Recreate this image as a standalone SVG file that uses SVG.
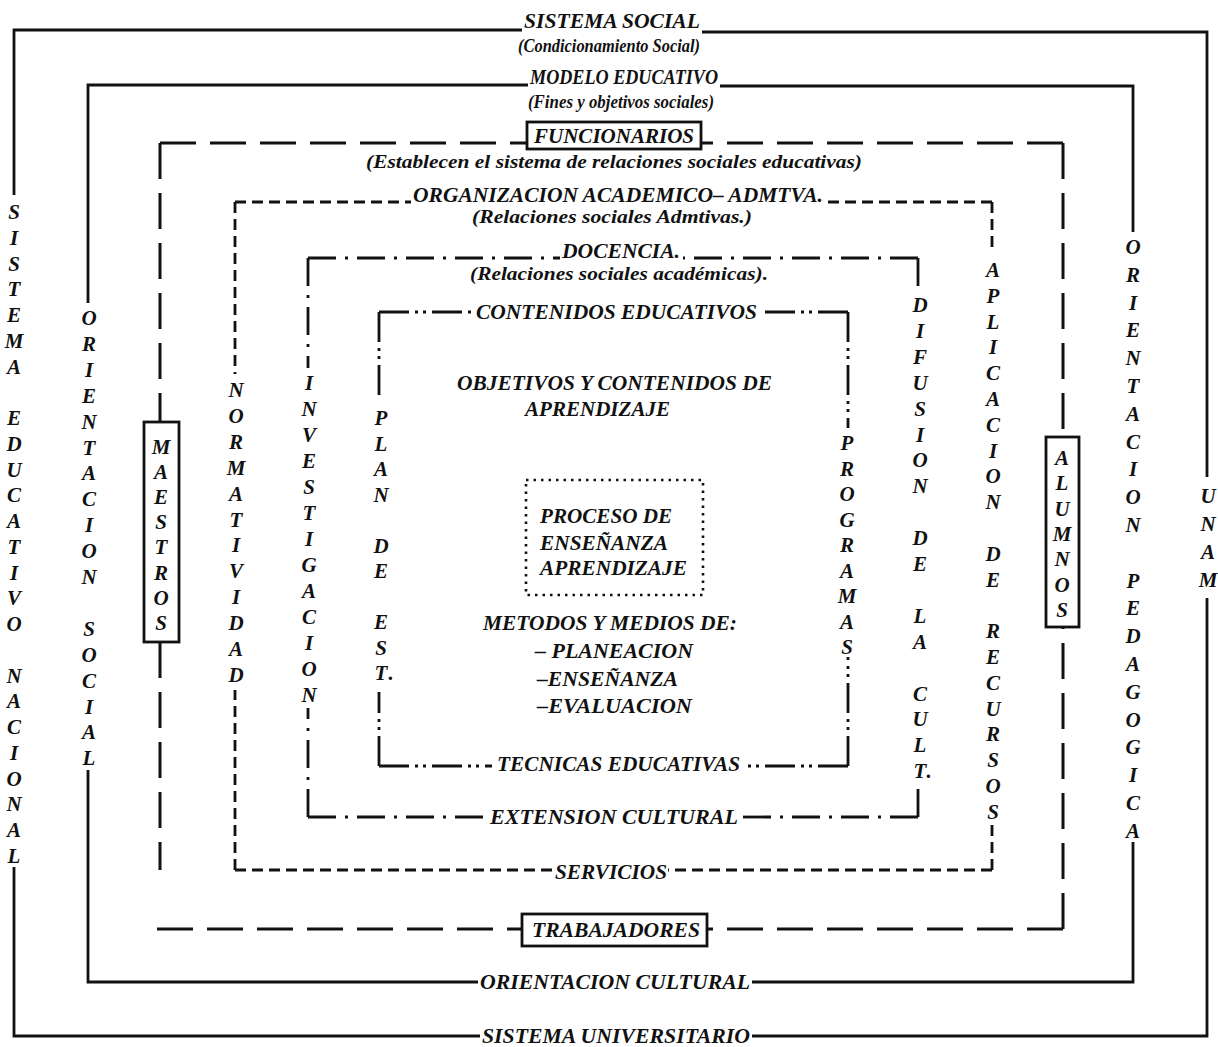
<svg xmlns="http://www.w3.org/2000/svg" width="1218" height="1047" viewBox="0 0 1218 1047">
<style>
.t{font-family:"Liberation Serif","Times New Roman",serif;font-style:italic;font-weight:bold;fill:#111}
.c{font-size:21px}
.s{font-size:19px}
.v{font-size:21px;text-anchor:middle}
.ln{fill:none;stroke:#111;stroke-width:2.8}
.d3{stroke-dasharray:36 14;stroke-width:3}
.d4{stroke-dasharray:11 6}
.d5{stroke-dasharray:28 9 3 9}
.d6{stroke-dasharray:30 6 3 5 3 6}
.box{fill:#fff;stroke:#111;stroke-width:2.8}
.dot{fill:none;stroke:#111;stroke-width:2.6;stroke-dasharray:2.5 5}
</style>
<rect width="1218" height="1047" fill="#fff"/>
<g id="connectors">
  <g id="frame-sistema-social-lines">
    <path class="ln" d="M522 30 H14 V195"/>
    <path class="ln" d="M14 867 V1036 H480"/>
    <path class="ln" d="M752 1036 H1207 V598"/>
    <path class="ln" d="M1207 477 V32 H702"/>
  </g>
  <g id="frame-modelo-educativo-lines">
    <path class="ln" d="M528 85 H88 V303"/>
    <path class="ln" d="M88 770 V982 H478"/>
    <path class="ln" d="M752 982 H1133 V842"/>
    <path class="ln" d="M1133 232 V86 H720"/>
  </g>
  <g id="frame-funcionarios-lines">
    <path class="ln d3" d="M160 143 H527"/>
    <path class="ln d3" d="M160 143 V422"/>
    <path class="ln d3" d="M160 642 V870"/>
    <path class="ln d3" d="M157 929 H522"/>
    <path class="ln d3" d="M1063 929 H707"/>
    <path class="ln d3" d="M1063 929 V627"/>
    <path class="ln d3" d="M1063 143 V437"/>
    <path class="ln d3" d="M1063 143 H701"/>
  </g>
  <g id="frame-organizacion-lines">
    <path class="ln d4" d="M235 202 H411"/>
    <path class="ln d4" d="M235 202 V374"/>
    <path class="ln d4" d="M235 870 V690"/>
    <path class="ln d4" d="M235 870 H552"/>
    <path class="ln d4" d="M992 870 H668"/>
    <path class="ln d4" d="M992 870 V822"/>
    <path class="ln d4" d="M992 202 V252"/>
    <path class="ln d4" d="M992 202 H826"/>
  </g>
  <g id="frame-docencia-lines">
    <path class="ln d5" d="M308 258 H560"/>
    <path class="ln d5" d="M308 258 V368"/>
    <path class="ln d5" d="M308 817 V708"/>
    <path class="ln d5" d="M308 817 H485"/>
    <path class="ln d5" d="M918 817 H738"/>
    <path class="ln d5" d="M918 817 V783"/>
    <path class="ln d5" d="M918 258 V288"/>
    <path class="ln d5" d="M918 258 H683"/>
  </g>
  <g id="frame-contenidos-lines">
    <path class="ln d6" d="M379 312 H474"/>
    <path class="ln d6" d="M379 312 V398"/>
    <path class="ln d6" d="M379 766 V692"/>
    <path class="ln d6" d="M379 766 H492"/>
    <path class="ln d6" d="M848 766 H742"/>
    <path class="ln d6" d="M848 766 V657"/>
    <path class="ln d6" d="M848 312 V428"/>
    <path class="ln d6" d="M848 312 H760"/>
  </g>
</g>

<g id="sistema-social">
  <text class="t c" x="524" y="28" textLength="176" lengthAdjust="spacingAndGlyphs">SISTEMA SOCIAL</text>
  <text class="t s" x="518" y="52" textLength="182" lengthAdjust="spacingAndGlyphs">(Condicionamiento Social)</text>
  <text class="t c" x="482" y="1043" textLength="268" lengthAdjust="spacingAndGlyphs">SISTEMA UNIVERSITARIO</text>
  <text class="t v" x="14 14 14 14 14 14 14 14 14 14 14 14 14 14 14 14 14 14 14 14 14 14 14 14 14 14" y="219 244.8 270.5 296.3 322 347.8 373.5 399.3 425 450.8 476.5 502.3 528 553.8 579.5 605.3 631 656.8 682.5 708.3 734 759.8 785.5 811.3 837 862.8">SISTEMA EDUCATIVO NACIONAL</text>
  <text class="t v" x="1208 1208 1208 1208" y="503 531 559 587">UNAM</text>
</g>

<g id="modelo-educativo">
  <text class="t c" x="530" y="84" textLength="188" lengthAdjust="spacingAndGlyphs">MODELO EDUCATIVO</text>
  <text class="t s" x="528" y="108" textLength="186" lengthAdjust="spacingAndGlyphs">(Fines y objetivos sociales)</text>
  <text class="t c" x="480" y="989" textLength="270" lengthAdjust="spacingAndGlyphs">ORIENTACION CULTURAL</text>
  <text class="t v" x="89 89 89 89 89 89 89 89 89 89 89 89 89 89 89 89 89 89" y="325 350.9 376.8 402.7 428.6 454.5 480.4 506.3 532.2 558.1 584 609.9 635.8 661.7 687.6 713.5 739.4 765.3">ORIENTACION SOCIAL</text>
  <text class="t v" x="1133 1133 1133 1133 1133 1133 1133 1133 1133 1133 1133 1133 1133 1133 1133 1133 1133 1133 1133 1133 1133 1133" y="254 281.8 309.6 337.4 365.2 393 420.8 448.6 476.4 504.2 532 559.8 587.6 615.4 643.2 671 698.8 726.6 754.4 782.2 810 837.8">ORIENTACION PEDAGOGICA</text>
</g>

<g id="funcionarios">
  <rect class="box" x="527" y="122" width="174" height="27"/>
  <text class="t c" x="534" y="143" textLength="160" lengthAdjust="spacingAndGlyphs">FUNCIONARIOS</text>
</g>
<g id="establecen">
  <text class="t s" x="366" y="168" textLength="496" lengthAdjust="spacingAndGlyphs">(Establecen el sistema de relaciones sociales educativas)</text>
</g>
<g id="trabajadores">
  <rect class="box" x="522" y="914" width="185" height="32"/>
  <text class="t c" x="532" y="937" textLength="168" lengthAdjust="spacingAndGlyphs">TRABAJADORES</text>
</g>
<g id="maestros">
  <rect class="box" x="144" y="422" width="35" height="220"/>
  <text class="t v" x="161 161 161 161 161 161 161 161" y="454 479.1 504.2 529.3 554.4 579.5 604.6 629.7">MAESTROS</text>
</g>
<g id="alumnos">
  <rect class="box" x="1046" y="437" width="33" height="190"/>
  <text class="t v" x="1062 1062 1062 1062 1062 1062 1062" y="465 490.3 515.6 540.9 566.2 591.5 616.8">ALUMNOS</text>
</g>

<g id="organizacion">
  <text class="t c" x="413" y="202" textLength="410" lengthAdjust="spacingAndGlyphs">ORGANIZACION ACADEMICO– ADMTVA.</text>
  <text class="t s" x="472" y="223" textLength="280" lengthAdjust="spacingAndGlyphs">(Relaciones sociales Admtivas.)</text>
  <text class="t c" x="555" y="879" textLength="112" lengthAdjust="spacingAndGlyphs">SERVICIOS</text>
  <text class="t v" x="236 236 236 236 236 236 236 236 236 236 236 236" y="397 422.9 448.8 474.7 500.6 526.5 552.4 578.3 604.2 630.1 656 681.9">NORMATIVIDAD</text>
  <text class="t v" x="993 993 993 993 993 993 993 993 993 993 993 993 993 993 993 993 993 993 993 993 993 993" y="277 302.8 328.6 354.4 380.2 406 431.8 457.6 483.4 509.2 535 560.8 586.6 612.4 638.2 664 689.8 715.6 741.4 767.2 793 818.8">APLICACION DE RECURSOS</text>
</g>

<g id="docencia">
  <text class="t c" x="562" y="258" textLength="118" lengthAdjust="spacingAndGlyphs">DOCENCIA.</text>
  <text class="t s" x="470" y="280" textLength="298" lengthAdjust="spacingAndGlyphs">(Relaciones sociales académicas).</text>
  <text class="t c" x="490" y="824" textLength="248" lengthAdjust="spacingAndGlyphs">EXTENSION CULTURAL</text>
  <text class="t v" x="309 309 309 309 309 309 309 309 309 309 309 309 309" y="390 416 442 468 494 520 546 572 598 624 650 676 702">INVESTIGACION</text>
  <text class="t v" x="920 920 920 920 920 920 920 920 920 920 920 920 920 920 920 920 920 920 920 929" y="312 337.9 363.8 389.7 415.6 441.5 467.4 493.3 519.2 545.1 571 596.9 622.8 648.7 674.6 700.5 726.4 752.3 778.2 778.2">DIFUSION DE LA CULT.</text>
</g>

<g id="contenidos">
  <text class="t c" x="476" y="319" textLength="281" lengthAdjust="spacingAndGlyphs">CONTENIDOS EDUCATIVOS</text>
  <text class="t c" x="497" y="771" textLength="243" lengthAdjust="spacingAndGlyphs">TECNICAS EDUCATIVAS</text>
  <text class="t v" x="381 381 381 381 381 381 381 381 381 381 381 391" y="425 450.5 476 501.5 527 552.5 578 603.5 629 654.5 680 680">PLAN DE EST.</text>
  <text class="t v" x="847 847 847 847 847 847 847 847 847" y="450 475.5 501 526.5 552 577.5 603 628.5 654">PROGRAMAS</text>
</g>

<g id="objetivos">
  <text class="t c" x="457" y="390" textLength="315" lengthAdjust="spacingAndGlyphs">OBJETIVOS Y CONTENIDOS DE</text>
  <text class="t c" x="525" y="416" textLength="145" lengthAdjust="spacingAndGlyphs">APRENDIZAJE</text>
</g>
<g id="proceso">
  <rect class="dot" x="526" y="480" width="177" height="115"/>
  <text class="t c" x="540" y="523" textLength="132" lengthAdjust="spacingAndGlyphs">PROCESO DE</text>
  <text class="t c" x="540" y="550" textLength="128" lengthAdjust="spacingAndGlyphs">ENSEÑANZA</text>
  <text class="t c" x="540" y="575" textLength="147" lengthAdjust="spacingAndGlyphs">APRENDIZAJE</text>
</g>
<g id="metodos">
  <text class="t c" x="483" y="630" textLength="254" lengthAdjust="spacingAndGlyphs">METODOS Y MEDIOS DE:</text>
  <text class="t c" x="535" y="658" textLength="158" lengthAdjust="spacingAndGlyphs">– PLANEACION</text>
  <text class="t c" x="537" y="686" textLength="141" lengthAdjust="spacingAndGlyphs">–ENSEÑANZA</text>
  <text class="t c" x="537" y="713" textLength="155" lengthAdjust="spacingAndGlyphs">–EVALUACION</text>
</g>
</svg>
